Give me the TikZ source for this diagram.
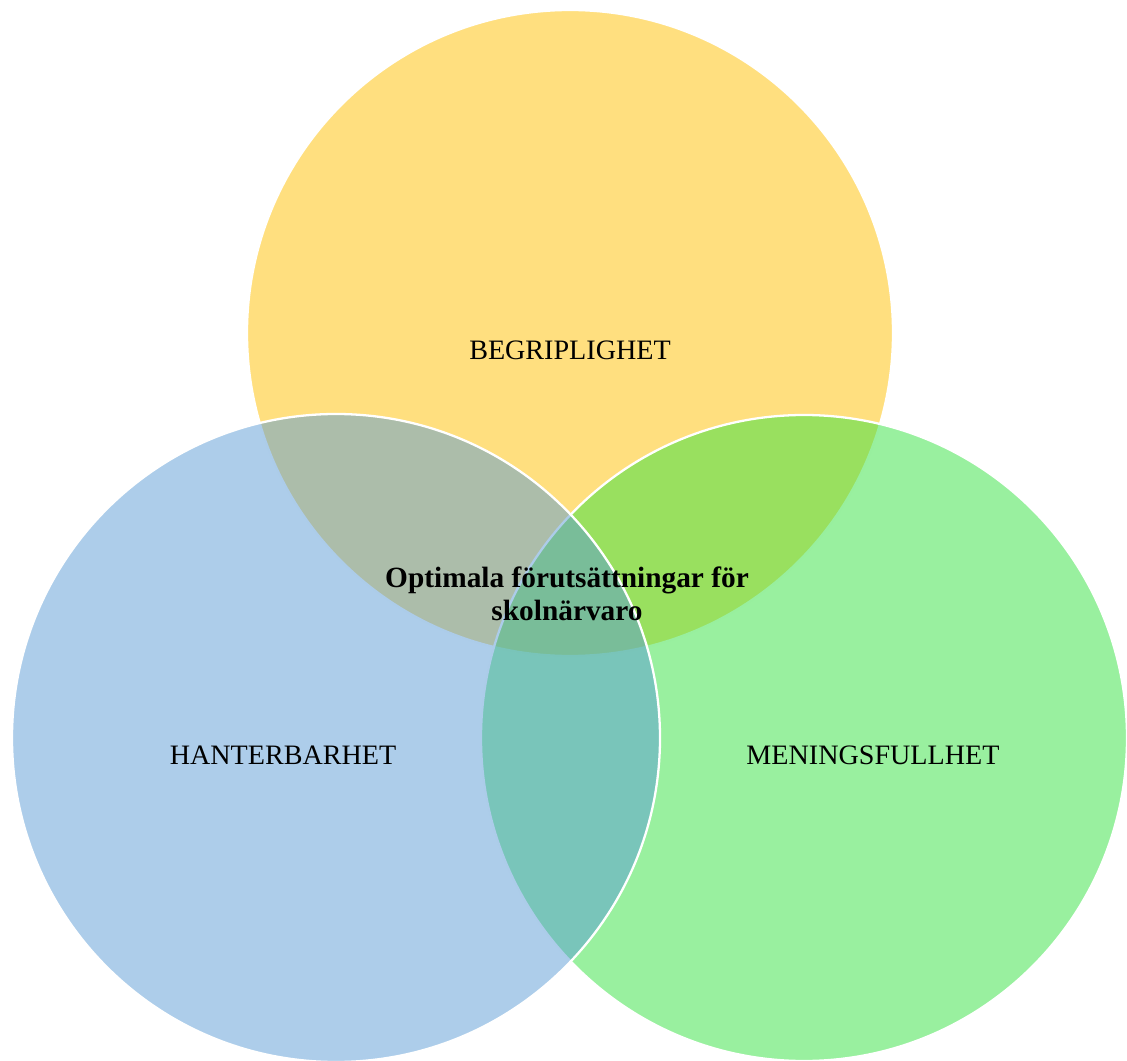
\documentclass[tikz,border=0pt]{standalone}
\usepackage{fontspec}
\setmainfont{Liberation Serif}
\usepackage{tikz}
\usetikzlibrary{positioning, calc}
\definecolor{gold}{RGB}{255,192,0}
\definecolor{steel}{RGB}{91,155,213}
\definecolor{leaf}{RGB}{51,225,63}

\begin{document}
\begin{tikzpicture}[
    venn/.style={circle, draw=white, line width=1.3pt, fill opacity=0.5, inner sep=0pt},
    lbl/.style={font=\fontsize{16}{18.5}\selectfont},
  ]
  \useasboundingbox (0,0) rectangle (22.54,-21.22);
  % the three circles: top, right, then left on top of them
  \node[venn, fill=gold, minimum size=12.92cm] (begrip) at (11.40,-6.66) {};
  \node[venn, fill=leaf, minimum size=12.92cm] (mening) at (16.08,-14.76) {};
  \node[venn, fill=steel, minimum size=12.96cm] (hanter) at (6.72,-14.76) {};
  % labels
  \node[lbl] (begriptxt) at ($(begrip)+(0,-0.34)$) {BEGRIPLIGHET};
  \node[lbl] (hantertxt) at ($(hanter)+(-1.06,-0.34)$) {HANTERBARHET};
  \node[lbl] (meningtxt) at ($(mening)+(1.38,-0.34)$) {MENINGSFULLHET};
  \node[lbl, font=\fontsize{16.7}{19}\selectfont\bfseries, align=center] (mitt) at (11.34,-11.88)
    {Optimala förutsättningar för\\skolnärvaro};
\end{tikzpicture}
\end{document}
